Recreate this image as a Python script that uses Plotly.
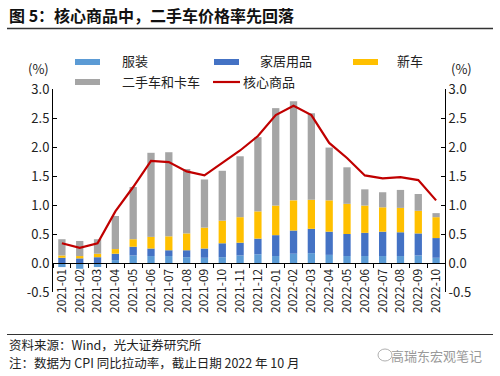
import plotly.graph_objects as go

months = ["2021-01","2021-02","2021-03","2021-04","2021-05","2021-06","2021-07","2021-08",
          "2021-09","2021-10","2021-11","2021-12","2022-01","2022-02","2022-03","2022-04",
          "2022-05","2022-06","2022-07","2022-08","2022-09","2022-10"]
clothing = [-0.07,-0.10,-0.07,0.05,0.13,0.12,0.12,0.10,0.09,0.10,0.13,0.15,0.12,0.16,0.17,0.14,0.12,0.12,0.12,0.12,0.13,0.09]
household = [0.09,0.08,0.10,0.11,0.15,0.13,0.10,0.12,0.16,0.24,0.22,0.27,0.36,0.40,0.42,0.40,0.38,0.40,0.42,0.41,0.38,0.34]
new_car = [0.04,0.04,0.06,0.08,0.13,0.20,0.24,0.29,0.36,0.39,0.44,0.47,0.51,0.52,0.50,0.54,0.52,0.47,0.42,0.42,0.39,0.36]
used_car = [0.28,0.26,0.25,0.57,0.90,1.45,1.45,1.11,0.83,0.86,1.05,1.28,1.68,1.71,1.49,0.91,0.63,0.28,0.26,0.31,0.29,0.07]
core_goods = [0.34,0.26,0.34,0.89,1.31,1.76,1.74,1.58,1.51,1.72,1.94,2.19,2.55,2.71,2.55,2.07,1.81,1.51,1.46,1.48,1.43,1.08]
y_ticks = [-0.5,0.0,0.5,1.0,1.5,2.0,2.5,3.0]
names = ["服装","家居用品","新车","二手车和卡车","核心商品"]

C_CLOTH = "#5B9BD5"
C_HOME = "#4472C4"
C_NEW = "#FFC000"
C_USED = "#A5A5A5"
C_LINE = "#C00000"
FONT = "Noto Sans CJK SC"
TXT = "#222222"

fig = go.Figure()
for vals, col, nm in [(clothing, C_CLOTH, names[0]), (household, C_HOME, names[1]),
                      (new_car, C_NEW, names[2]), (used_car, C_USED, names[3])]:
    fig.add_trace(go.Bar(x=months, y=vals, name=nm, marker=dict(color=col, line=dict(width=0)),
                         showlegend=False))
fig.add_trace(go.Scatter(x=months, y=core_goods, name=names[4], mode="lines",
                         line=dict(color=C_LINE, width=2.2), showlegend=False))
# invisible trace to create right axis
fig.add_trace(go.Scatter(x=months, y=core_goods, yaxis="y2", mode="lines",
                         line=dict(width=0), hoverinfo="skip", showlegend=False, opacity=0))

W, H = 500, 376
ml, mr, mt, mb = 53, 55, 89, 84
PW, PH = W - ml - mr, H - mt - mb
yr = [-0.5, 3.0]
fig.update_layout(
    width=W, height=H, margin=dict(l=ml, r=mr, t=mt, b=mb),
    paper_bgcolor="white", plot_bgcolor="white",
    barmode="relative", bargap=0.59,
    font=dict(family=FONT, size=13, color=TXT),
    xaxis=dict(type="category", anchor="free", position=(0 - yr[0]) / (yr[1] - yr[0]),
               showline=True, linecolor="#000000", linewidth=1,
               ticks="outside", ticklen=4, tickcolor="#000000", tickson="boundaries",
               tickangle=-90, tickfont=dict(size=12, color=TXT), showgrid=False,
               range=[-0.5, len(months) - 0.5], zeroline=False),
    yaxis=dict(range=yr, tickvals=y_ticks, ticktext=[f"{v:.1f}" for v in y_ticks],
               showline=True, linecolor="#000000", linewidth=1, ticks="inside", ticklen=4,
               tickcolor="#000000", showgrid=False, zeroline=False,
               tickfont=dict(size=13, color=TXT)),
    yaxis2=dict(range=yr, tickvals=y_ticks, ticktext=[f"{v:.1f}" for v in y_ticks],
                overlaying="y", side="right", showline=True, linecolor="#000000", linewidth=1,
                ticks="inside", ticklen=4, tickcolor="#000000", showgrid=False, zeroline=False,
                tickfont=dict(size=13, color=TXT)),
)

def px(x):
    return (x - ml) / PW
def py(y):
    return 1 - (y - mt) / PH

shapes = []
annotations = []
# title and rules
annotations.append(dict(text="<b>图 5：核心商品中，二手车价格率先回落</b>", x=px(7), y=py(15),
                        xref="paper", yref="paper", xanchor="left", yanchor="middle",
                        showarrow=False, font=dict(size=16, color="#111111", family=FONT)))
shapes.append(dict(type="line", xref="paper", yref="paper", x0=px(7), x1=px(493),
                   y0=py(28.5), y1=py(28.5), line=dict(color="#333333", width=1.5)))
shapes.append(dict(type="line", xref="paper", yref="paper", x0=px(7), x1=px(493),
                   y0=py(334.5), y1=py(334.5), line=dict(color="#333333", width=1.2)))
# legend
leg = [(75, 62, C_CLOTH, names[0], 120, "bar"), (214, 62, C_HOME, names[1], 258, "bar"),
       (353, 62, C_NEW, names[2], 395, "bar"), (75, 82, C_USED, names[3], 120, "bar"),
       (213, 82, C_LINE, names[4], 241, "line")]
for x0, yc, col, nm, tx, kind in leg:
    if kind == "bar":
        shapes.append(dict(type="rect", xref="paper", yref="paper", x0=px(x0), x1=px(x0 + 25),
                           y0=py(yc + 3), y1=py(yc - 3), fillcolor=col, line=dict(width=0)))
    else:
        shapes.append(dict(type="line", xref="paper", yref="paper", x0=px(x0), x1=px(x0 + 27),
                           y0=py(yc), y1=py(yc), line=dict(color=col, width=2.2)))
    annotations.append(dict(text=nm, x=px(tx), y=py(yc - 1), xref="paper", yref="paper",
                            xanchor="left", yanchor="middle", showarrow=False,
                            font=dict(size=13, color=TXT)))
# units
annotations.append(dict(text="(%)", x=px(38), y=py(69), xref="paper", yref="paper",
                        xanchor="center", yanchor="middle", showarrow=False,
                        font=dict(size=13, color=TXT)))
annotations.append(dict(text="(%)", x=px(461), y=py(69), xref="paper", yref="paper",
                        xanchor="center", yanchor="middle", showarrow=False,
                        font=dict(size=13, color=TXT)))
# footer
annotations.append(dict(text="资料来源：Wind，光大证券研究所", x=px(7), y=py(344), xref="paper",
                        yref="paper", xanchor="left", yanchor="middle", showarrow=False,
                        font=dict(size=12.5, color=TXT)))
annotations.append(dict(text="注：数据为 CPI 同比拉动率，截止日期 2022 年 10 月", x=px(7), y=py(362),
                        xref="paper", yref="paper", xanchor="left", yanchor="middle",
                        showarrow=False, font=dict(size=12.5, color=TXT)))
annotations.append(dict(text="高瑞东宏观笔记", x=px(484), y=py(355), xref="paper", yref="paper",
                        xanchor="right", yanchor="middle", showarrow=False,
                        font=dict(size=13, color="#9a9a9a")))
shapes.append(dict(type="circle", xref="paper", yref="paper", x0=px(378), x1=px(392),
                   y0=py(349), y1=py(361), line=dict(color="#b0b0b0", width=1)))

fig.update_layout(shapes=shapes, annotations=annotations)
fig.write_html("out.html", config={"displayModeBar": False},
               post_script="document.body.style.margin='0';document.body.style.padding='0';document.body.style.overflow='hidden';")
